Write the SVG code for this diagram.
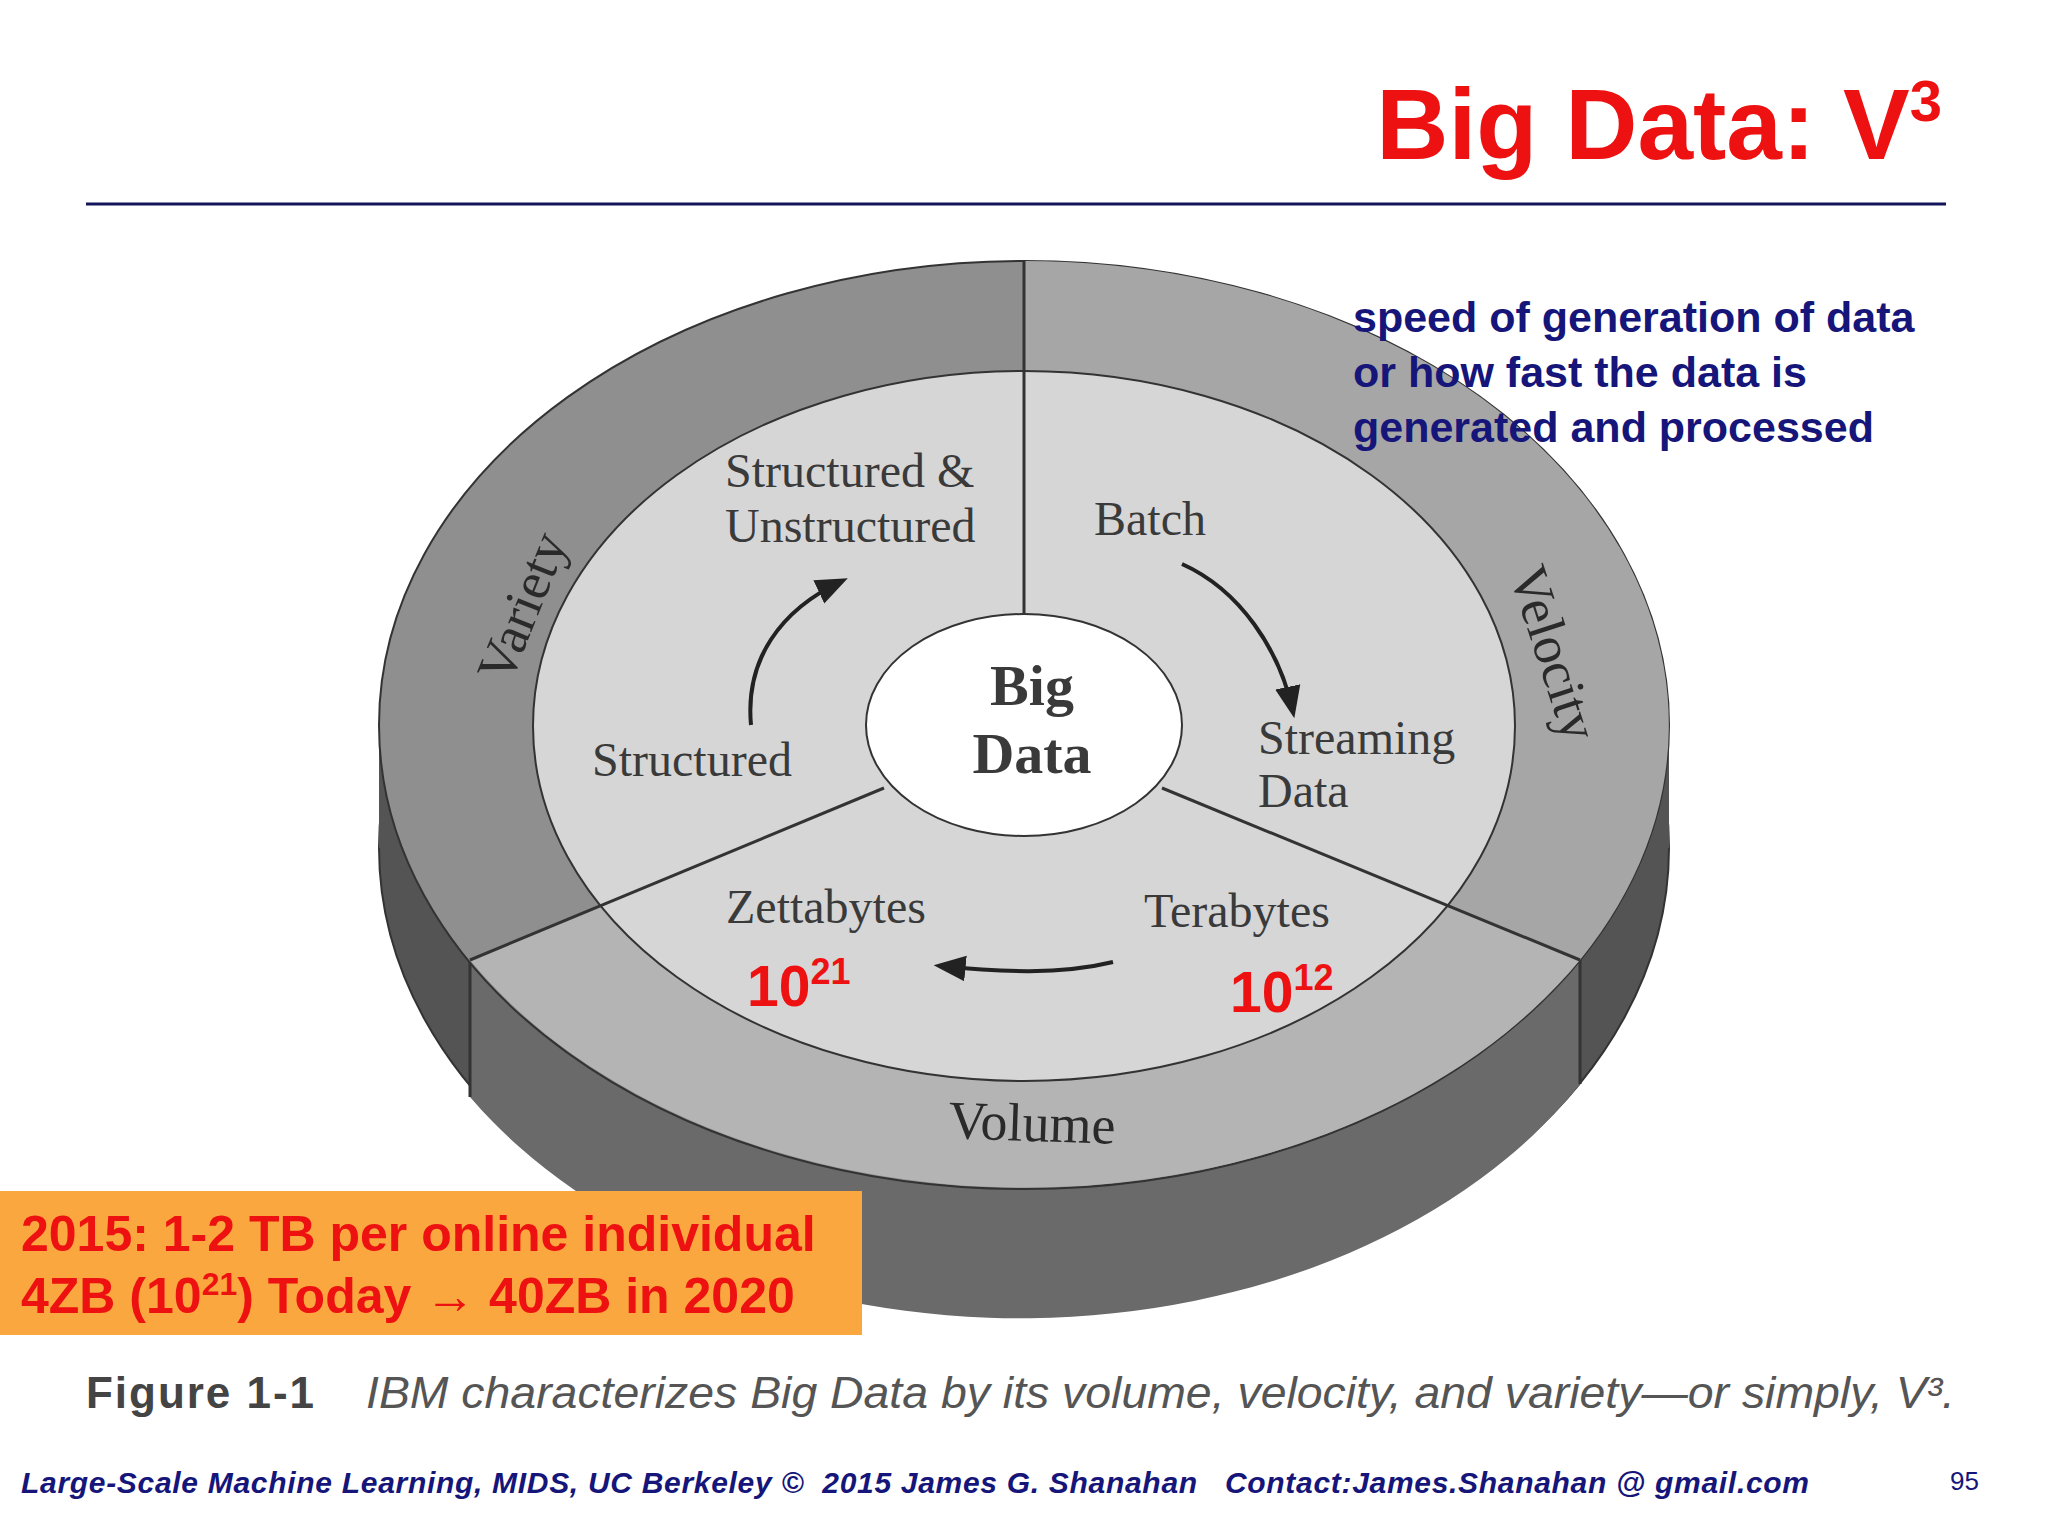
<svg xmlns="http://www.w3.org/2000/svg" width="2048" height="1536" viewBox="0 0 2048 1536">
<style>
.s{font-family:"Liberation Serif",serif;fill:#3a3a3a}
.ring{font-family:"Liberation Serif",serif;fill:#2a2a2a;font-size:54px}
.r{font-family:"Liberation Sans",Arial,sans-serif;font-weight:bold;fill:#ee1111}
.b{font-family:"Liberation Sans",Arial,sans-serif;font-weight:bold;fill:#15157a;font-size:43px}
.dv{stroke:#333;stroke-width:3;fill:none}
.ar{stroke:#222;stroke-width:4;fill:none;marker-end:url(#ah)}
</style>
<defs>
<marker id="ah" viewBox="0 0 10 10" refX="8" refY="5" markerWidth="8" markerHeight="8" orient="auto"><path d="M0,1L10,5L0,9z" fill="#222"/></marker>
</defs>
<rect width="2048" height="1536" fill="#fff"/>
<text class="r" x="1942" y="159" text-anchor="end" font-size="100">Big Data: V<tspan font-size="58" dy="-38">3</tspan></text>
<line x1="86" y1="204" x2="1946" y2="204" stroke="#14145a" stroke-width="3"/>
<g id="disk">
<ellipse cx="1024" cy="848" rx="645" ry="464" fill="#545454" stroke="#333" stroke-width="2"/>
<rect x="379" y="725" width="1290" height="123" fill="#545454"/>
<path d="M470,960 A645,464 0 0 0 1580,960 L1580,1084 A645,464 0 0 1 470,1097 Z" fill="#6a6a6a"/>
<line class="dv" x1="470" y1="960" x2="470" y2="1097"/>
<line class="dv" x1="1580" y1="960" x2="1580" y2="1084"/>
<ellipse cx="1024" cy="725" rx="645" ry="464" fill="#8f8f8f" stroke="#333" stroke-width="2"/>
<path d="M1024,725 L1024,261 A645,464 0 0 1 1580,960 Z" fill="#a6a6a6"/>
<path d="M1024,725 L1580,960 A645,464 0 0 1 470,960 Z" fill="#b4b4b4"/>
<ellipse cx="1024" cy="726" rx="491" ry="355" fill="#d6d6d6" stroke="#333" stroke-width="2"/>
<ellipse cx="1024" cy="725" rx="158" ry="111" fill="#fff" stroke="#333" stroke-width="2"/>
<line class="dv" x1="1024" y1="261" x2="1024" y2="614"/>
<line class="dv" x1="470" y1="960" x2="884" y2="788"/>
<line class="dv" x1="1580" y1="960" x2="1162" y2="788"/>
</g>
<g id="labels">
<text class="ring" transform="translate(522,607) rotate(-68)" text-anchor="middle" dy="18">Variety</text>
<text class="ring" transform="translate(1554,653) rotate(72)" text-anchor="middle" dy="18">Velocity</text>
<text class="ring" transform="translate(1032,1123) rotate(2)" text-anchor="middle" dy="18">Volume</text>
<text class="s" font-size="48" x="725" y="487">Structured &amp;</text>
<text class="s" font-size="48" x="725" y="542">Unstructured</text>
<text class="s" font-size="48" x="1094" y="535">Batch</text>
<text class="s" font-size="58" font-weight="bold" x="1032" y="705" text-anchor="middle" fill="#222">Big</text>
<text class="s" font-size="58" font-weight="bold" x="1032" y="773" text-anchor="middle" fill="#222">Data</text>
<text class="s" font-size="48" x="1258" y="754">Streaming</text>
<text class="s" font-size="48" x="1258" y="807">Data</text>
<text class="s" font-size="48" x="592" y="776">Structured</text>
<text class="s" font-size="48" x="726" y="923">Zettabytes</text>
<text class="s" font-size="48" x="1144" y="927">Terabytes</text>
<text class="r" font-size="57" x="747" y="1006">10<tspan font-size="36" dy="-22">21</tspan></text>
<text class="r" font-size="57" x="1230" y="1012">10<tspan font-size="36" dy="-22">12</tspan></text>
</g>
<g id="connectors">
<path class="ar" d="M751,725 C745,660 780,610 842,581"/>
<path class="ar" d="M1182,564 C1240,590 1280,650 1293,712"/>
<path class="ar" d="M1113,962 C1060,975 1000,972 940,966"/>
</g>
<g id="note">
<text class="b" x="1353" y="332">speed of generation of data</text>
<text class="b" x="1353" y="387">or how fast the data is</text>
<text class="b" x="1353" y="442">generated and processed</text>
</g>
<g id="box">
<rect x="0" y="1191" width="862" height="144" fill="#fba73f"/>
<text class="r" font-size="50" x="21" y="1251">2015: 1-2 TB per online individual</text>
<text class="r" font-size="50" x="21" y="1313">4ZB (10<tspan font-size="32" dy="-18">21</tspan><tspan dy="18">) Today → 40ZB in 2020</tspan></text>
</g>
<text x="86" y="1408" font-family="'Liberation Sans',Arial,sans-serif" font-weight="bold" font-size="44" fill="#444" textLength="228">Figure 1-1</text>
<text x="366" y="1408" font-family="'Liberation Sans',Arial,sans-serif" font-style="italic" font-size="44" fill="#555" textLength="1589" lengthAdjust="spacingAndGlyphs">IBM characterizes Big Data by its volume, velocity, and variety—or simply, V³.</text>
<text x="21" y="1493" xml:space="preserve" font-family="'Liberation Sans',Arial,sans-serif" font-style="italic" font-weight="bold" font-size="30" fill="#15157a" textLength="1788">Large-Scale Machine Learning, MIDS, UC Berkeley ©  2015 James G. Shanahan   Contact:James.Shanahan @ gmail.com</text>
<text x="1979" y="1490" font-family="'Liberation Sans',Arial,sans-serif" font-size="26" fill="#15157a" text-anchor="end">95</text>
</svg>
